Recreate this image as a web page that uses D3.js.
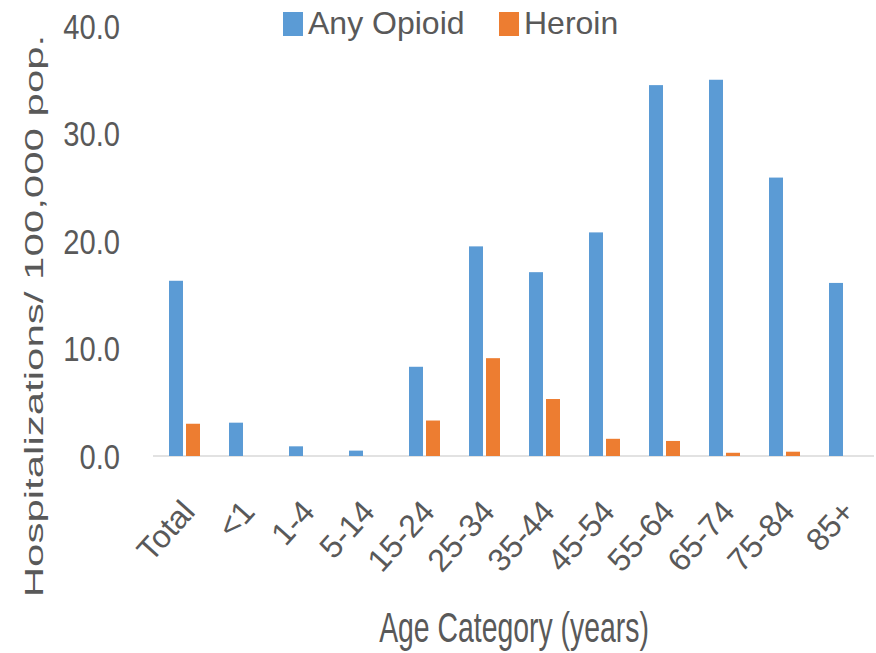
<!DOCTYPE html>
<html>
<head>
<meta charset="utf-8">
<script src="https://cdn.jsdelivr.net/npm/d3@7"></script>
<style>
  html, body { margin: 0; padding: 0; background: #ffffff; }
  svg { display: block; }
  text { font-family: "Liberation Sans", Arial, sans-serif; fill: #595959; }
</style>
</head>
<body>
<svg id="chart" width="876" height="653"></svg>
<script>
const categories = ["Total", "<1", "1-4", "5-14", "15-24", "25-34", "35-44", "45-54", "55-64", "65-74", "75-84", "85+"];
const seriesNames = ["Any Opioid", "Heroin"];
const anyOpioid = [16.3, 3.1, 0.9, 0.5, 8.3, 19.5, 17.1, 20.8, 34.5, 35.0, 25.9, 16.1];
const heroin = [3.0, 0.0, 0.0, 0.0, 3.3, 9.1, 5.3, 1.6, 1.4, 0.3, 0.4, 0.0];
const yTicks = [0, 10, 20, 30, 40];
const colors = ["#5B9BD5", "#ED7D31"];

const svg = d3.select("#chart");

const x0 = d3.scaleBand().domain(categories).range([154.5, 874.5])
  .paddingInner(29 / 60).paddingOuter(14.5 / 60);
const x1 = d3.scaleBand().domain(seriesNames).range([0, x0.bandwidth()])
  .paddingInner(3 / 17).paddingOuter(0);
const y = d3.scaleLinear().domain([0, 40]).range([456, 26]);

const rows = categories.map((c, i) => ({ cat: c, vals: [anyOpioid[i], heroin[i]] }));

// baseline
svg.append("line")
  .attr("x1", 153).attr("x2", 874)
  .attr("y1", y(0)).attr("y2", y(0))
  .attr("stroke", "#d9d9d9").attr("stroke-width", 1.5);

// bars
const g = svg.append("g");
rows.forEach(r => {
  r.vals.forEach((v, k) => {
    if (v <= 0) return;
    g.append("rect")
      .attr("x", x0(r.cat) + x1(seriesNames[k]))
      .attr("y", y(v))
      .attr("width", x1.bandwidth())
      .attr("height", y(0) - y(v))
      .attr("fill", colors[k]);
  });
});

// y tick labels
const fmt = d3.format(".1f");
svg.append("g").selectAll("text").data(yTicks).join("text")
  .attr("transform", d => `translate(120,${y(d)}) scale(0.81,1)`)
  .attr("dy", "0.36em")
  .attr("text-anchor", "end")
  .style("font-size", "36px")
  .text(d => fmt(d));

// x tick labels
svg.append("g").selectAll("text").data(categories).join("text")
  .attr("transform", d => `translate(${x0(d) + x0.bandwidth() / 2 + 12},513) rotate(-48)`)
  .attr("text-anchor", "end")
  .style("font-size", "32px")
  .text(d => d);

// axis titles
svg.append("text")
  .attr("transform", "translate(514,642) scale(0.66,1)")
  .attr("text-anchor", "middle")
  .style("font-size", "43px")
  .text("Age Category (years)");

svg.append("text")
  .attr("transform", "translate(43,316) scale(0.6,1) rotate(-90)")
  .attr("text-anchor", "middle")
  .style("font-size", "42px")
  .text("Hospitalizations/ 100,000 pop.");

// legend
const legendX = [283, 499];
const leg = svg.append("g");
seriesNames.forEach((s, k) => {
  leg.append("rect")
    .attr("x", legendX[k]).attr("y", 12)
    .attr("width", 20).attr("height", 24)
    .attr("fill", colors[k]);
  leg.append("text")
    .attr("x", legendX[k] + 25).attr("y", 34)
    .style("font-size", "32px")
    .text(s);
});
</script>
</body>
</html>
